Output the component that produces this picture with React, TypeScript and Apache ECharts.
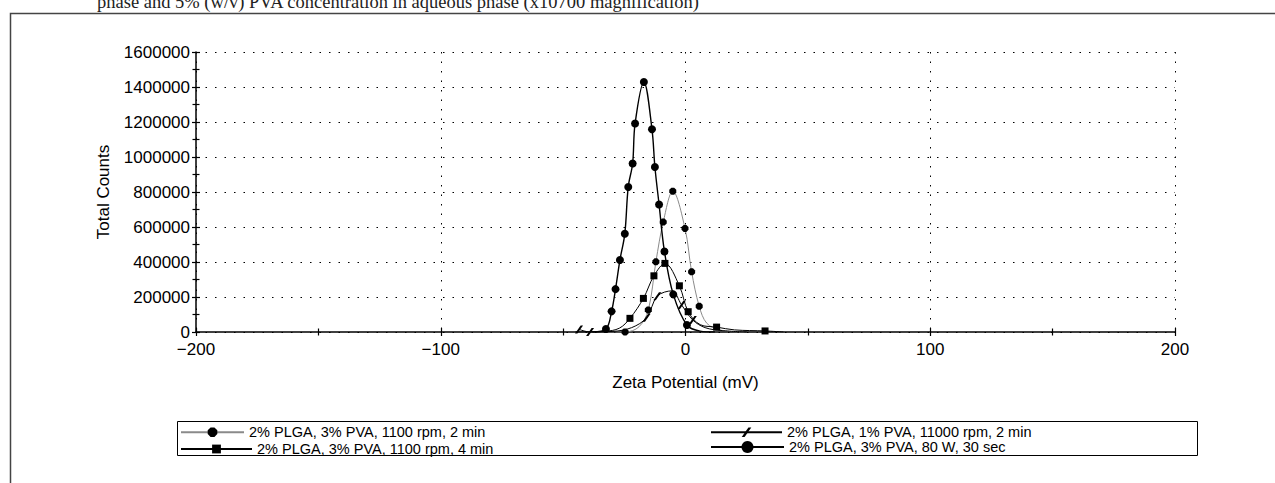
import React, { useEffect, useRef } from "react";
import * as echarts from "echarts";

const CAPTION = "phase and 5% (w/v) PVA concentration in aqueous phase (x10700 magnification)";
const X_NAME = "Zeta Potential (mV)";
const Y_NAME = "Total Counts";
const X_MIN = -200;
const X_MAX = 200;
const X_STEP = 100;
const Y_MIN = 0;
const Y_MAX = 1600000;
const Y_STEP = 200000;

const NAMES = [
  "2% PLGA, 3% PVA, 1100 rpm, 2 min",
  "2% PLGA, 3% PVA, 1100 rpm, 4 min",
  "2% PLGA, 1% PVA, 11000 rpm, 2 min",
  "2% PLGA, 3% PVA, 80 W, 30 sec",
];

// rows: [zeta potential (mV), total counts, marker drawn (1) or not (0)]
const rpm1100min2: number[][] = [
  [-32, 0, 0],
  [-24.7, 0, 1],
  [-19, 30000, 0],
  [-15.2, 126000, 1],
  [-12.1, 401000, 1],
  [-9.1, 628000, 1],
  [-5.2, 805000, 1],
  [-0.2, 592000, 1],
  [2.5, 344000, 1],
  [5.6, 147000, 1],
  [8.7, 50000, 0],
  [14, 12000, 0],
  [24, 0, 0],
];

const rpm1100min4: number[][] = [
  [-45, 0, 0],
  [-33, 4000, 0],
  [-27, 22000, 0],
  [-22.7, 78000, 1],
  [-17.2, 192000, 1],
  [-12.9, 321000, 1],
  [-8.4, 392000, 1],
  [-2.5, 264000, 1],
  [1.1, 116000, 1],
  [6, 42000, 0],
  [12.7, 28000, 1],
  [20, 12000, 0],
  [32.5, 6000, 1],
  [40, 0, 0],
];

const rpm11000min2: number[][] = [
  [-43.5, 15000, 1],
  [-39, 0, 1],
  [-30, 3000, 0],
  [-22, 25000, 0],
  [-15.9, 82000, 1],
  [-11.5, 205000, 1],
  [-5.6, 235000, 0],
  [-1.6, 155000, 1],
  [3, 68000, 1],
  [8, 25000, 0],
  [15, 8000, 0],
  [25, 0, 0],
];

const w80sec30: number[][] = [
  [-38, 0, 0],
  [-32.5, 17000, 1],
  [-30.2, 118000, 1],
  [-28.6, 245000, 1],
  [-26.8, 411000, 1],
  [-24.8, 561000, 1],
  [-23.4, 829000, 1],
  [-21.6, 963000, 1],
  [-20.6, 1191000, 1],
  [-17.0, 1429000, 1],
  [-13.7, 1159000, 1],
  [-12.5, 943000, 1],
  [-10.8, 729000, 1],
  [-8.6, 460000, 1],
  [-5.0, 215000, 1],
  [0.6, 40000, 1],
  [6, 5000, 0],
  [12, 0, 0],
];

const FONT = "'Liberation Sans', Arial, sans-serif";
const OCTAGON = "path://M3,0 L7,0 L10,3 L10,7 L7,10 L3,10 L0,7 L0,3 Z";
const SLASH = "path://M0,10 L7,0 L10,0 L3,10 Z";

function toData(rows: number[][]) {
  return rows.map(([x, y, m]) => (m ? [x, y] : { value: [x, y], symbol: "none" }));
}

function lineSeries(name: string, rows: number[][], symbol: string, size: number, lineColor: string, width: number) {
  return {
    name,
    type: "line",
    data: toData(rows),
    smooth: 0.35,
    showAllSymbol: true,
    symbol,
    symbolSize: size,
    lineStyle: { color: lineColor, width },
    itemStyle: { color: "#000" },
    emphasis: { disabled: true },
  };
}

function legendFor(name: string, left: number, centerY: number, itemWidth: number, itemHeight: number) {
  return {
    data: [name],
    left,
    top: centerY - itemHeight / 2,
    padding: 0,
    itemWidth,
    itemHeight,
    selectedMode: false,
    textStyle: { fontFamily: FONT, fontSize: 14.5, color: "#000", lineHeight: itemHeight },
  };
}

export default function App() {
  const ref = useRef<HTMLDivElement>(null);
  useEffect(() => {
    if (!ref.current) return;
    const chart = echarts.init(ref.current, null, { renderer: "svg" });
    const tickStyle = { color: "#000", width: 1.2 };
    chart.setOption({
      animation: false,
      backgroundColor: "#fff",
      grid: { left: 196, top: 52, width: 979, height: 280, containLabel: false },
      xAxis: [
        {
          type: "value",
          min: X_MIN,
          max: X_MAX,
          interval: X_STEP,
          name: X_NAME,
          nameLocation: "middle",
          nameGap: 42,
          nameTextStyle: { fontFamily: FONT, fontSize: 17, color: "#000" },
          axisLine: { show: true, onZero: false, lineStyle: { color: "#000", width: 1.5 } },
          axisTick: { show: true, length: 4, lineStyle: tickStyle },
          minorTick: { show: true, splitNumber: 2, length: 3.5, lineStyle: tickStyle },
          axisLabel: {
            fontFamily: FONT,
            fontSize: 17,
            color: "#000",
            margin: 9,
            formatter: (v: number) => String(v).replace("-", "\u2212"),
          },
          splitLine: { show: true, lineStyle: { color: "#000", type: [1.5, 8], width: 1 } },
        },
        {
          type: "value",
          min: X_MIN,
          max: X_MAX,
          interval: X_STEP,
          position: "bottom",
          axisLine: { show: false, onZero: false },
          axisLabel: { show: false },
          splitLine: { show: false },
          axisTick: { show: true, inside: true, length: 4, lineStyle: tickStyle },
          minorTick: { show: true, splitNumber: 2, length: 3.5, lineStyle: tickStyle },
        },
      ],
      yAxis: [
        {
          type: "value",
          min: Y_MIN,
          max: Y_MAX,
          interval: Y_STEP,
          name: Y_NAME,
          nameLocation: "middle",
          nameGap: 84,
          nameTextStyle: { fontFamily: FONT, fontSize: 17, color: "#000" },
          axisLine: { show: true, onZero: false, lineStyle: { color: "#000", width: 1.5 } },
          axisTick: { show: true, length: 4, lineStyle: tickStyle },
          minorTick: { show: true, splitNumber: 2, length: 3.5, lineStyle: tickStyle },
          axisLabel: {
            fontFamily: FONT,
            fontSize: 17,
            color: "#000",
            margin: 6,
            formatter: (v: number) => String(v),
          },
          splitLine: { show: true, lineStyle: { color: "#000", type: [1.5, 8], width: 1 } },
        },
        {
          type: "value",
          min: Y_MIN,
          max: Y_MAX,
          interval: Y_STEP,
          position: "left",
          axisLine: { show: false, onZero: false },
          axisLabel: { show: false },
          splitLine: { show: false },
          axisTick: { show: true, inside: true, length: 4, lineStyle: tickStyle },
          minorTick: { show: true, splitNumber: 2, length: 3.5, lineStyle: tickStyle },
        },
      ],
      legend: [
        legendFor(NAMES[0], 180, 430.7, 63, 12),
        legendFor(NAMES[1], 180, 447, 71, 11),
        legendFor(NAMES[2], 710, 430.7, 71, 12),
        legendFor(NAMES[3], 710, 447, 73, 15),
      ],
      series: [
        lineSeries(NAMES[0], rpm1100min2, OCTAGON, 7, "#8a8a8a", 1),
        lineSeries(NAMES[1], rpm1100min4, "rect", 7, "#000", 1),
        lineSeries(NAMES[2], rpm11000min2, SLASH, 8, "#000", 1),
        lineSeries(NAMES[3], w80sec30, "circle", 8, "#000", 1.4),
      ],
      graphic: [
        {
          type: "rect",
          silent: true,
          z: -10,
          shape: { x: 10.5, y: 13.5, width: 1400, height: 600 },
          style: { fill: "none", stroke: "#444", lineWidth: 1.5 },
        },
        {
          type: "text",
          silent: true,
          x: 97,
          y: 2,
          style: {
            text: CAPTION,
            fontFamily: "'Liberation Serif', 'Times New Roman', serif",
            fontSize: 18.5,
            fill: "#222",
            verticalAlign: "middle",
          },
        },
        {
          type: "rect",
          silent: true,
          shape: { x: 177.5, y: 421.5, width: 1020, height: 34 },
          style: { fill: "none", stroke: "#000", lineWidth: 1 },
        },
      ],
    });
    return () => chart.dispose();
  }, []);
  return (
    <div
      ref={ref}
      style={{ position: "absolute", left: 0, top: 0, width: 1275, height: 483, background: "#fff" }}
    />
  );
}
